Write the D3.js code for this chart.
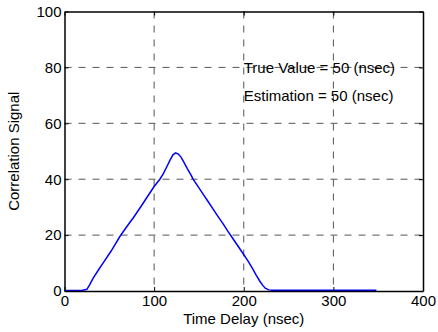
<!DOCTYPE html>
<html>
<head>
<meta charset="utf-8">
<script src="https://cdn.jsdelivr.net/npm/d3@7"></script>
<style>
body { margin: 0; background: #fff; }
svg { display: block; font-family: "Liberation Sans", Arial, sans-serif; }
</style>
</head>
<body>
<div id="chart"></div>
<script>
// data
var delay = [0, 10, 20, 25, 28, 32, 38, 43, 52, 61.8, 69, 77, 84, 93, 100, 106.4,
    110, 115, 118, 121, 124, 127, 130, 133, 137, 141.7, 143.5, 150, 155, 160, 166,
    171, 177, 182, 186.3, 192, 199, 205, 210, 214, 218, 221, 224, 228, 232, 260, 300, 348];
var signal = [0.2, 0.2, 0.3, 0.6, 2.2, 4.6, 7.6, 10.0, 14.3, 19.5, 22.8, 26.3, 29.6, 34.0, 37.4, 40,
    41.8, 45.0, 47.0, 48.7, 49.4, 49.0, 47.9, 46.2, 43.8, 41.2, 40, 36.9, 34.5, 32.1, 29.2,
    26.8, 24.0, 21.5, 19.5, 16.8, 13.5, 10.6, 7.9, 5.6, 3.5, 2.1, 1.0, 0.4, 0.3, 0.3, 0.3, 0.3];
var xTicks = [0, 100, 200, 300, 400];
var yTicks = [0, 20, 40, 60, 80, 100];
var notes = [
    {x: 200, y: 80, text: "True Value = 50 (nsec)"},
    {x: 200, y: 70, text: "Estimation = 50 (nsec)"}
];

var margin = {top: 11.5, right: 15, bottom: 41, left: 64.5},
    width = 438 - margin.left - margin.right,
    height = 332 - margin.top - margin.bottom;
const fontSize = "15px";

const svg = d3.select("#chart").append("svg")
    .attr("width", 438)
    .attr("height", 332)
    .append("g")
    .attr("transform", "translate(" + margin.left + "," + margin.top + ")");

const x = d3.scaleLinear().domain([0, 400]).range([0, width]);
const y = d3.scaleLinear().domain([0, 100]).range([height, 0]);

// grid
svg.append("g").selectAll("line")
    .data(xTicks.slice(1, -1))
    .enter().append("line")
    .attr("x1", d => x(d)).attr("x2", d => x(d))
    .attr("y1", 0).attr("y2", height)
    .attr("stroke", "#555").attr("stroke-width", 1)
    .attr("stroke-dasharray", "7,7");
svg.append("g").selectAll("line")
    .data(yTicks.slice(1, -1))
    .enter().append("line")
    .attr("y1", d => y(d)).attr("y2", d => y(d))
    .attr("x1", 0).attr("x2", width)
    .attr("stroke", "#555").attr("stroke-width", 1)
    .attr("stroke-dasharray", "7,7");

// curve
svg.append("path")
    .datum(d3.zip(delay, signal))
    .attr("fill", "none")
    .attr("stroke", "#0000ff")
    .attr("stroke-width", 1.5)
    .attr("d", d3.line()
        .x(d => x(d[0]))
        .y(d => y(d[1])));

// axes, ticks pointing inward
const xAxis = d3.axisBottom(x).tickValues(xTicks).tickSizeInner(-4).tickSizeOuter(0).tickPadding(4);
const yAxis = d3.axisLeft(y).tickValues(yTicks).tickSizeInner(-4).tickSizeOuter(0).tickPadding(3);

svg.append("g")
    .attr("class", "Xaxis")
    .attr("transform", "translate(0," + height + ")")
    .call(xAxis);
svg.append("g")
    .attr("class", "Yaxis")
    .call(yAxis);
svg.append("g")
    .call(d3.axisTop(x).tickValues(xTicks).tickSizeInner(-4).tickSizeOuter(0).tickFormat(""));
svg.append("g")
    .attr("transform", "translate(" + width + ",0)")
    .call(d3.axisRight(y).tickValues(yTicks).tickSizeInner(-4).tickSizeOuter(0).tickFormat(""));

svg.selectAll(".domain").attr("stroke", "#000").attr("stroke-width", 1.5);
svg.selectAll(".tick line").attr("stroke", "#000");
svg.selectAll(".tick text")
    .attr("fill", "#000")
    .style("font-family", "Liberation Sans, Arial, sans-serif")
    .style("font-size", fontSize);

// annotations
svg.selectAll(".note")
    .data(notes)
    .enter().append("text")
    .attr("class", "note")
    .attr("x", d => x(d.x))
    .attr("y", d => y(d.y))
    .attr("dy", "0.35em")
    .style("font-size", fontSize)
    .text(d => d.text);

// axis labels
svg.append("text")
    .attr("x", width / 2)
    .attr("y", height + 33)
    .attr("text-anchor", "middle")
    .style("font-size", fontSize)
    .text("Time Delay (nsec)");
svg.append("text")
    .attr("transform", "translate(" + (-46) + "," + (height / 2) + ") rotate(-90)")
    .attr("text-anchor", "middle")
    .style("font-size", fontSize)
    .text("Correlation Signal");
</script>
</body>
</html>
